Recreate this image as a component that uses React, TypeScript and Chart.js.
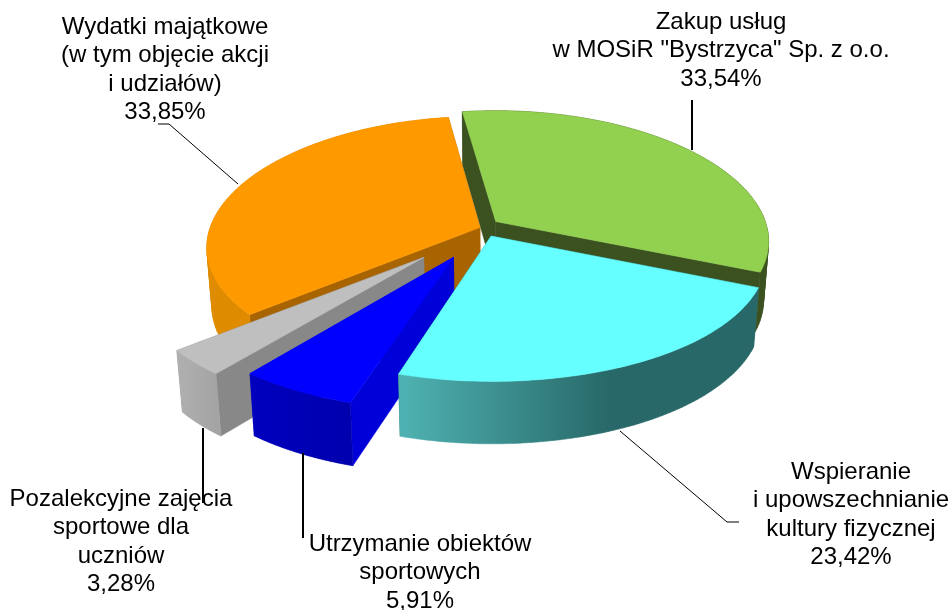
import React, { useEffect, useRef } from "react";
import { Chart, registerables } from "chart.js";

Chart.register(...registerables);

const categories = [
  "Zakup usług\nw MOSiR \"Bystrzyca\" Sp. z o.o.",
  "Wspieranie\ni upowszechnianie\nkultury fizycznej",
  "Utrzymanie obiektów\nsportowych",
  "Pozalekcyjne zajęcia\nsportowe dla\nuczniów",
  "Wydatki majątkowe\n(w tym objęcie akcji\ni udziałów)",
];
const shares = [33.54, 23.42, 5.91, 3.28, 33.85];
const shareLabels = ["33,54%", "23,42%", "5,91%", "3,28%", "33,85%"];

const topColors = ["#92D050", "#66FFFF", "#0000FF", "#BFBFBF", "#FF9900"];
const cutColors = ["#3B5220", "#2A6A6A", "#0000D8", "#888888", "#A86400"];
const wallStart = ["#3B5220", "#4FB2B2", "#0000BE", "#B0B0B0", "#E08C00"];
const wallEnd = ["#3B5220", "#286868", "#0000AE", "#A4A4A4", "#D88600"];
const explode = [9, 15, 75, 93, 9];
const drawOrder = [0, 4, 3, 2, 1];
const nudges = [[1, -3], [-3, 3], [0, 0], [0, 0], [0, 2]];

const labelBoxes = [
  { x: 721, y: 22 },
  { x: 851, y: 472 },
  { x: 420, y: 544 },
  { x: 121, y: 499 },
  { x: 165, y: 27 },
];
const lineStep = 28.6;
const leaders = [
  { w: 2, pts: [[692, 150], [692, 100]] },
  { w: 1, pts: [[620, 431], [727, 522], [739, 522]] },
  { w: 2, pts: [[303, 453], [303, 538]] },
  { w: 2, pts: [[203, 428], [203, 503]] },
  { w: 1, pts: [[238, 184], [169, 124], [158, 124]] },
];

const PIE_X = 488;
const PIE_Y = 227;
const K = 0.475;
const FONT = '24px "Liberation Sans", Arial, sans-serif';

function project(u: number, v: number, R: number) {
  const s = 1 / (1.047 - (0.16 * v) / R);
  const sy = 1 / (1.072 - (0.135 * v) / R);
  return { x: PIE_X + u * s, y: PIE_Y + v * K * sy, s };
}
function lower(p: { x: number; y: number; s: number }) {
  return {
    x: PIE_X + (p.x - PIE_X) * 0.982,
    y: p.y + 59 + 25 * (p.s - 1),
  };
}
function signedArea(q: { x: number; y: number }[]) {
  let a = 0;
  q.forEach((p, j) => {
    const r = q[(j + 1) % q.length];
    a += p.x * r.y - r.x * p.y;
  });
  return a;
}

const pie3d = {
  id: "pie3d",
  beforeDatasetDraw(chart: any) {
    const ctx = chart.ctx;
    const arcs = chart.getDatasetMeta(0).data;
    ctx.save();
    drawOrder.forEach((i) => {
      const arc = arcs[i];
      const { startAngle, endAngle, outerRadius: R } = arc.getProps(["startAngle", "endAngle", "outerRadius"], true);
      const mid = (startAngle + endAngle) / 2;
      const off = arc.options.offset;
      const ox = Math.cos(mid) * off;
      const oy = Math.sin(mid) * off;
      const n = 80;
      const rim: any[] = [];
      for (let k = 0; k <= n; k++) {
        const a = startAngle + ((endAngle - startAngle) * k) / n;
        rim.push(project(ox + R * Math.cos(a), oy + R * Math.sin(a), R));
      }
      const rimLow = rim.map(lower);
      const apex = project(ox, oy, R);
      const apexLow = lower(apex);
      const [nx, ny] = nudges[i];
      const paint = (polys: any[][], fill: any) => {
        ctx.beginPath();
        polys.forEach((pts) => {
          pts.forEach((p, j) => (j ? ctx.lineTo(p.x + nx, p.y + ny) : ctx.moveTo(p.x + nx, p.y + ny)));
          ctx.closePath();
        });
        ctx.fillStyle = fill;
        ctx.fill();
        ctx.strokeStyle = fill;
        ctx.lineWidth = 0.5;
        ctx.stroke();
      };
      paint([[apex, rim[0], rimLow[0], apexLow]], cutColors[i]);
      paint([[apex, rim[n], rimLow[n], apexLow]], cutColors[i]);
      const xs = rim.map((p) => p.x);
      const gx0 = Math.min(...xs);
      const gx1 = Math.max(...xs);
      const g = ctx.createLinearGradient(gx0, 0, gx1, 0);
      g.addColorStop(0, wallStart[i]);
      g.addColorStop(i === 1 ? 0.58 : 1, wallEnd[i]);
      g.addColorStop(1, wallEnd[i]);
      const quads: any[][] = [];
      for (let k = 0; k < n; k++) {
        const q = [rim[k], rim[k + 1], rimLow[k + 1], rimLow[k]];
        quads.push(signedArea(q) < 0 ? q.reverse() : q);
      }
      paint(quads, g);
      paint([[apex, ...rim]], topColors[i]);
    });
    ctx.restore();
    return false;
  },
  afterDatasetsDraw(chart: any) {
    const ctx = chart.ctx;
    ctx.save();
    ctx.strokeStyle = "#000";
    leaders.forEach(({ w, pts }) => {
      ctx.lineWidth = w;
      ctx.beginPath();
      pts.forEach((p, j) => (j ? ctx.lineTo(p[0], p[1]) : ctx.moveTo(p[0], p[1])));
      ctx.stroke();
    });
    ctx.fillStyle = "#000";
    ctx.font = FONT;
    ctx.textAlign = "center";
    ctx.textBaseline = "middle";
    categories.forEach((c, i) => {
      const lines = [...c.split("\n"), shareLabels[i]];
      lines.forEach((l, j) => ctx.fillText(l, labelBoxes[i].x, labelBoxes[i].y + j * lineStep));
    });
    ctx.restore();
  },
};

export default function App() {
  const ref = useRef<HTMLCanvasElement>(null);
  useEffect(() => {
    document.body.style.margin = "0";
    const chart = new Chart(ref.current!, {
      type: "doughnut",
      data: {
        labels: categories,
        datasets: [{ data: shares, backgroundColor: topColors, offset: explode, borderWidth: 0 }],
      },
      options: {
        animation: false,
        responsive: false,
        cutout: 0,
        radius: 283,
        rotation: -8,
        layout: { padding: 0 },
        plugins: { legend: { display: false }, tooltip: { enabled: false } },
      },
      plugins: [pie3d],
    } as any);
    return () => chart.destroy();
  }, []);
  return <canvas ref={ref} width={952} height={610} style={{ display: "block" }} />;
}
